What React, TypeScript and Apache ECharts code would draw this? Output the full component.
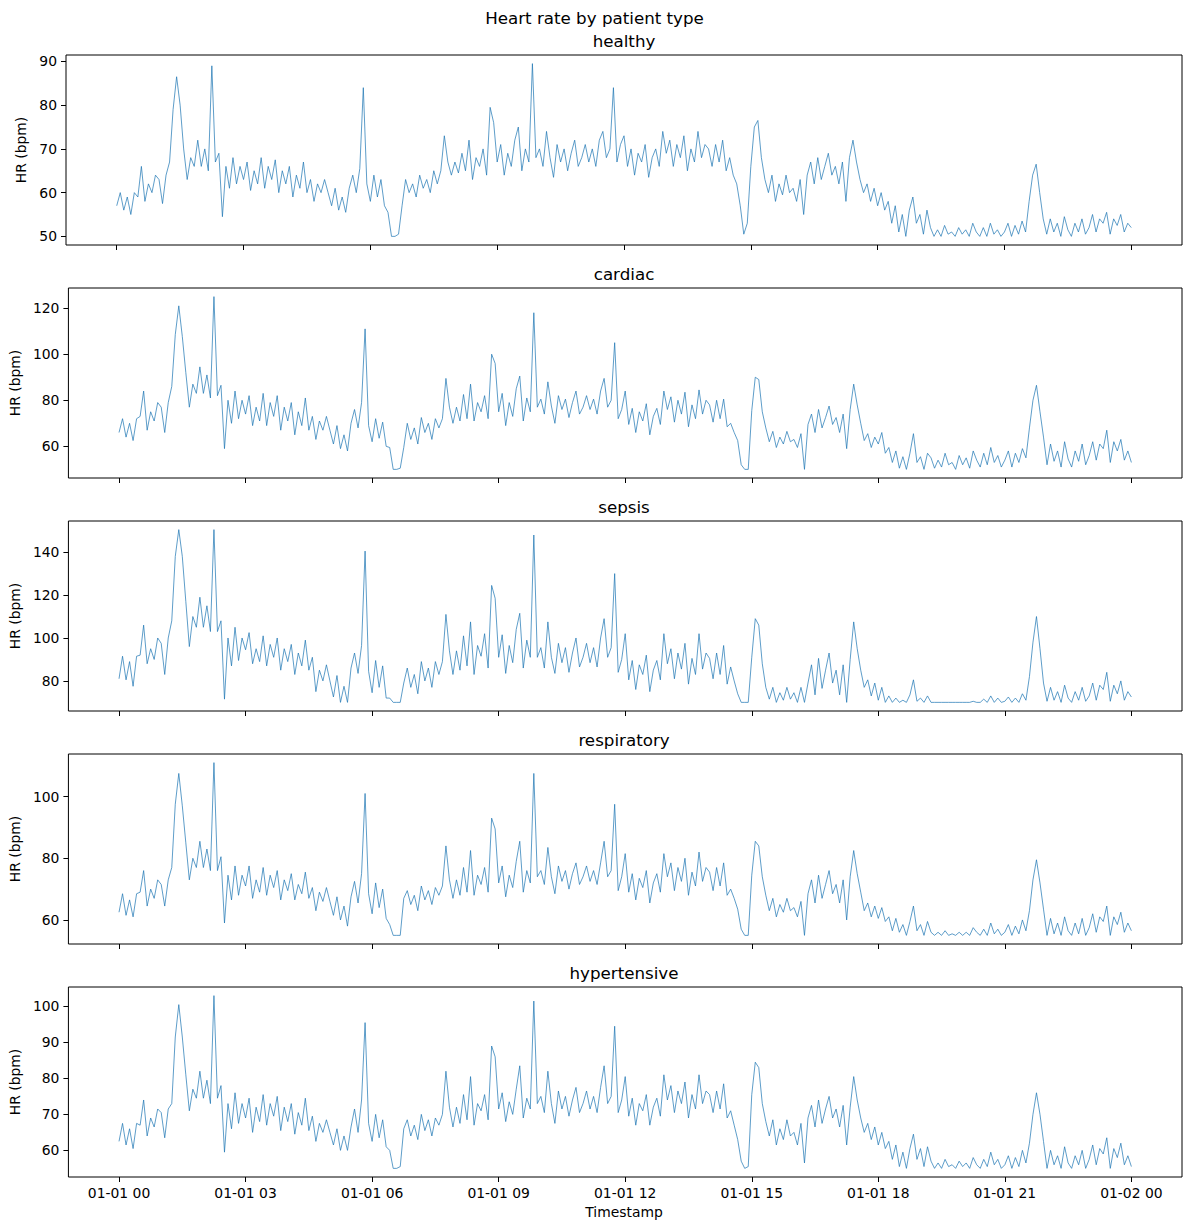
import * as echarts from 'echarts';
import React, { useEffect, useRef } from 'react';

// 5 minute samples, 01-01 00:00 .. 01-02 00:00 (one row per hour)
const panelNames = ['healthy', 'cardiac', 'sepsis', 'respiratory', 'hypertensive'];
const hourTicks = [0, 180, 360, 540, 720, 900, 1080, 1260, 1440];
const hourLabels = ['01-01 00', '01-01 03', '01-01 06', '01-01 09', '01-01 12', '01-01 15', '01-01 18', '01-01 21', '01-02 00'];
const yTicks = [
  [50, 60, 70, 80, 90],
  [60, 80, 100, 120],
  [80, 100, 120, 140],
  [60, 80, 100],
  [60, 70, 80, 90, 100],
];

const healthy = [
  57, 60, 56, 59, 55, 60, 59, 66, 58, 62, 60, 64,
  63, 57.5, 64, 67, 79, 86.5, 80, 70, 63, 68, 66, 72,
  66, 70, 65, 89, 67, 69, 54.5, 66, 61, 68, 62, 66,
  63, 67, 60.5, 65, 62, 68, 61, 66, 63, 67.5, 60, 65,
  62, 66, 59, 64, 61, 67, 60, 63, 58, 62, 60, 63,
  60, 57, 61, 56, 59, 55.5, 61, 64, 60, 65.5, 84, 62,
  58, 64, 59, 63, 57, 55.5, 50, 50, 50.5, 57, 63, 60,
  62, 59, 64, 61, 63, 60, 65, 62, 65, 73, 67, 64,
  67, 64.5, 69, 65, 72, 63, 68, 66, 70, 64, 79.5, 76,
  67, 71, 64, 69, 66, 72, 75, 65, 70, 67, 89.5, 68,
  70, 66, 74, 68, 63.5, 71, 67, 70, 65, 69, 72, 66,
  68, 71, 67, 70, 66, 72, 74, 68, 70, 84, 67, 71,
  73, 66, 70, 64, 69, 67, 71, 63.5, 68, 70, 66, 74,
  69, 72, 66, 71, 68, 73, 65, 70, 67, 74, 68, 71,
  70, 66, 71, 67, 72, 65, 68, 64, 62, 57, 50.5, 53,
  66, 75, 76.5, 68, 63, 60, 64, 58, 62, 59.5, 64, 60,
  61, 58, 63, 55, 64, 67, 62, 68, 63, 66, 69, 64,
  66, 62, 67, 58, 68, 72, 67, 63, 60, 62, 58, 61,
  57, 60, 56, 58, 53, 57, 51, 55, 50, 56, 59, 53,
  55, 50.5, 56, 52, 50, 51.5, 50, 52.5, 50.5, 51, 50, 52,
  50.5, 51.5, 50, 53, 51, 50, 52, 50, 53, 50.5, 51.5, 50,
  51, 53, 50, 52.5, 50.5, 53.5, 51, 58, 64, 66.5, 60, 54,
  50.5, 54, 51, 53, 50, 54.5, 51.5, 50, 53, 51, 54, 50.5,
  52, 55, 51, 54, 53, 55.5, 50.5, 54, 52.5, 55, 51, 53,
  52,
];

const cardiac = [
  66, 72, 64, 70, 62.5, 72, 73, 84, 67, 75, 71, 79,
  77, 66, 79, 86, 108.5, 121, 107.7, 92, 77, 87, 83, 94.5,
  83, 91, 81, 125, 82, 86.5, 59, 80, 70, 84, 72, 80,
  74, 82, 69, 77, 71, 83, 69, 79, 73, 82, 67, 77,
  71, 79, 65, 75, 69, 81, 67, 73, 63, 71, 67, 73,
  67, 61, 69, 59, 65, 58, 70, 76, 68, 79, 111, 69,
  62, 72, 63.5, 70.5, 60, 59.5, 50, 50, 50.5, 59.5, 70, 63,
  68, 61, 72.5, 66, 70, 63, 72, 68, 72, 89.5, 77, 70,
  77, 71, 82.5, 72, 87, 71, 79, 75, 82, 72, 100, 96,
  75, 83, 69, 79, 73, 85, 90.5, 71, 81, 75, 118, 77,
  80.5, 74, 88, 77.5, 70, 82, 76, 80.5, 72.5, 79, 84, 74,
  77, 82, 76, 80.5, 74, 84, 89.5, 77, 80, 105, 72, 76,
  84, 69.5, 76.5, 66, 75, 71, 78.5, 65, 73, 76.5, 69.5, 84,
  76, 81.5, 70.5, 80, 74, 83.5, 68.5, 78, 72, 84.5, 74, 80,
  78, 70.5, 80, 72, 80.5, 68.5, 70, 66, 62.5, 52, 50, 50,
  75.5, 90, 89, 75, 68, 62, 66.5, 59.5, 64, 61, 66.5, 62,
  63, 59.5, 65.5, 50, 69.5, 74, 66, 76, 68, 72.5, 77.5, 69.5,
  72.5, 66, 74, 59, 76, 87, 78, 70, 62.5, 65.5, 59.5, 64,
  61, 66, 57, 59.5, 53, 58, 50.5, 55.5, 50, 57, 65.5, 53,
  55.5, 50, 57, 55, 50.5, 54, 51, 57, 52, 53, 50, 56,
  52, 55, 50.5, 58, 54, 51, 57, 52, 59.5, 53, 56, 51,
  54, 58, 51, 57, 53, 59, 55, 68, 80, 86.5, 75, 64,
  52, 61, 53.5, 58, 51, 62, 54.5, 51, 58, 53.5, 61, 52,
  56, 62, 54, 61, 59, 67, 53, 62, 58, 63, 54, 58,
  53,
];

const sepsis = [
  81, 91.5, 80.5, 89, 77.5, 91.5, 92, 106, 88, 95, 90, 100,
  97.5, 83, 100, 108, 138, 150.5, 138, 117, 96, 110, 105, 119,
  105, 115, 103, 150.5, 103, 108, 71.5, 100, 87, 105, 89.5, 100,
  94.5, 102.5, 88, 95, 89, 101, 87, 97, 91, 100, 85, 95,
  89, 97, 83, 93, 87, 99, 85, 91, 75, 85, 80, 87.5,
  80, 72.5, 82.5, 70, 77.5, 70, 86, 93, 83.5, 96.5, 140.5, 84.5,
  74.5, 89.5, 77, 87, 72, 72, 70, 70, 70, 79, 86, 77,
  83, 74, 89, 80, 86, 77, 89, 83, 89, 111, 94, 83,
  94, 85, 101, 87, 107.5, 83, 96.5, 91.5, 102, 86, 124.5, 118.5,
  91, 101.5, 83.5, 96.5, 88.5, 104, 111.5, 86, 99, 91, 148, 91,
  95.5, 86, 107.5, 91, 83.5, 97.5, 88.5, 95.5, 84, 93, 100, 86.5,
  91, 97.5, 88.5, 95.5, 86.5, 100, 109, 91, 95.5, 130, 84, 90,
  102, 80.5, 89.5, 76, 87.5, 83, 92, 75, 85, 89.5, 80.5, 102,
  88, 95, 81, 93, 85.5, 97.5, 78.5, 90.5, 83, 102, 85.5, 93,
  90.5, 81, 93, 83, 96.5, 78.5, 86.5, 80, 74, 70, 70, 70,
  91, 109, 106, 88, 77, 71.5, 77, 70, 74.5, 71, 77, 71.5,
  74.5, 70, 77, 70, 79, 87.5, 73.5, 90.5, 76.5, 85, 93, 79,
  85, 73.5, 87.5, 70, 90, 107.5, 95, 85, 77, 80.5, 73, 79,
  71, 77, 70, 73, 70, 72, 70, 71, 70, 73.5, 80.5, 70.5,
  72, 70, 73, 70, 70, 70, 70, 70, 70, 70, 70, 70,
  70, 70, 70, 70.5, 70, 70, 71.5, 70, 73, 70, 72, 70,
  70.5, 72.5, 70, 72, 70, 74, 71, 82, 98, 110, 95, 79,
  70.5, 77, 71, 75, 70, 78, 72, 70, 75, 71, 77, 70.5,
  73, 79, 71, 78, 76, 84, 70.5, 78, 74, 80, 71, 75,
  72.5,
];

const respiratory = [
  62.5, 68.5, 61.5, 66.5, 61, 68.5, 69, 76, 64.5, 70, 67, 73,
  71.5, 64.5, 73, 77, 97.5, 107.5, 97, 85, 73, 80, 77, 85.5,
  77, 83, 76, 111, 76, 80.5, 59, 74.5, 66.5, 77.5, 68, 74.5,
  71, 77.5, 67, 73, 69, 77, 68, 74.5, 70.5, 76, 66.5, 73,
  69.5, 75, 66.5, 71.5, 68.5, 75.5, 67, 70.5, 63, 69, 66, 70.5,
  66, 61.5, 67.5, 60, 64.5, 58, 67.5, 72.5, 65.5, 75, 101, 68.5,
  62, 72, 64, 70, 60.5, 58.5, 55, 55, 55, 67, 69.5, 65,
  68, 63, 71, 66.5, 69.5, 65, 70.5, 68, 71, 84, 73, 67,
  73, 68, 77, 69, 82.5, 68, 74.5, 71.5, 77, 69, 93, 89.5,
  72, 77.5, 67.5, 74.5, 70.5, 79, 85.5, 69, 76, 72, 107.5, 74,
  76, 71.5, 83.5, 74, 68.5, 77.5, 72.5, 76, 70, 75, 78.5, 71.5,
  74, 77.5, 72.5, 76, 71.5, 78.5, 85.5, 74, 76, 97.5, 69.5, 74,
  81.5, 69, 75, 66.5, 73.5, 70.5, 76, 65.5, 72, 75, 69, 81.5,
  74, 78.5, 69.5, 77, 72.5, 80, 68, 75.5, 71, 82, 72.5, 77,
  75.5, 69.5, 77, 71, 78.5, 68, 70, 67, 63.5, 57, 55, 55,
  74.5, 85.5, 84, 74, 68, 63, 67, 61, 65, 62.5, 67, 63,
  64, 61, 66, 55, 68.5, 73, 65.5, 74.5, 67, 71.5, 76, 68.5,
  71.5, 65.5, 73, 60, 74, 82.5, 75, 69, 63, 65.5, 61, 64.5,
  60.5, 64, 59.5, 61, 56.5, 60.5, 56, 58.5, 55, 59.5, 64.5, 56.5,
  58.5, 55, 59.5, 56, 55, 56, 55, 56.5, 55, 55.5, 55, 56,
  55, 56, 55, 57.5, 56, 55, 57, 55, 59, 55.5, 57, 55,
  56, 58.5, 55, 58, 55.5, 60, 56.5, 63, 73, 79.5, 72, 63.5,
  55, 60.5, 55.5, 59, 55, 61, 56.5, 55, 59, 55.5, 60.5, 55,
  57.5, 62, 56, 61, 59.5, 64.5, 55, 61, 58.5, 62.5, 56, 59,
  56.5,
];

const hypertensive = [
  62.5, 67.5, 61.5, 66, 60.5, 67.5, 67, 74, 64, 69, 66.5, 71.5,
  70.5, 63.5, 71.5, 73, 91.5, 100.5, 91.5, 81, 71, 77, 74.5, 82,
  74.5, 79.5, 73, 103, 74.5, 78, 59.5, 73, 66, 76, 67.5, 73,
  69, 74.5, 65, 72, 68, 75.5, 67, 73, 69.5, 75, 65.5, 72,
  68, 73, 64.5, 70.5, 67, 74.5, 65.5, 69.5, 62.5, 67.5, 65, 68.5,
  65, 61.5, 66, 60, 64, 60, 66.5, 71.5, 65, 74, 95.5, 67.5,
  62.5, 70, 63.5, 68.5, 61, 60, 55, 55, 55.5, 66, 68.5, 64,
  67, 63, 70, 65.5, 68.5, 64, 69, 67, 70, 82, 72, 66.5,
  72, 67.5, 75.5, 68.5, 80.5, 67, 73, 71, 75.5, 68.5, 89, 86,
  71.5, 76, 68, 73.5, 70, 77, 83.5, 69, 74.5, 71.5, 101.5, 73,
  75, 70.5, 82, 73, 67.5, 76.5, 71.5, 75, 69.5, 74, 77.5, 70.5,
  73, 76.5, 71.5, 75, 70.5, 77.5, 83.5, 73, 75, 94.5, 70.5, 74,
  80.5, 69.5, 74.5, 67, 73, 71, 75.5, 67, 72, 74.5, 69.5, 81,
  74, 78, 70.5, 76.5, 73, 79, 69, 75.5, 71.5, 81, 73, 76.5,
  75.5, 70.5, 76.5, 71.5, 78.5, 69, 71, 67, 63, 57, 55, 55.5,
  75.5, 84.5, 83, 73, 68, 64, 68.5, 61.5, 66, 63, 68.5, 64,
  65, 61.5, 67.5, 56.5, 69, 72.5, 66.5, 74, 67.5, 71.5, 75, 69,
  71.5, 66.5, 72.5, 61.5, 72, 80.5, 74, 69, 65, 67.5, 63, 66.5,
  61.5, 65, 60.5, 62.5, 57.5, 61.5, 55.5, 59.5, 55, 60.5, 64.5, 57.5,
  60.5, 55.5, 61, 57, 55, 56.5, 55, 57.5, 55.5, 56, 55, 57,
  55.5, 56.5, 55, 58, 56, 55, 57.5, 55.5, 59.5, 56, 57.5, 55,
  56, 58.5, 55, 58, 55.5, 60, 56.5, 62, 70, 76, 70, 62.5,
  55, 60, 56, 58.5, 55, 61, 56.5, 55, 58.5, 56, 60, 55,
  57.5, 61.5, 56, 60.5, 59, 63.5, 55, 60.5, 58, 62, 56, 58.5,
  55.5,
];

const allSeries = [healthy, cardiac, sepsis, respiratory, hypertensive];

const FONT = 'DejaVu Sans';
const LEFT = 66;
const WIDTH = 1116;
const PANEL_TOPS = [55, 288, 521, 754, 987];
const PANEL_H = 190;
const LINE_BLUE = '#1f77b4';

const App = () => {
  const chartRef = useRef<HTMLDivElement>(null);

  useEffect(() => {
    document.body.style.margin = '0';
    if (!chartRef.current) return;
    const chart = echarts.init(chartRef.current, null, { renderer: 'svg' });

    const grids = PANEL_TOPS.map((top) => ({
      left: LEFT,
      top,
      width: WIDTH,
      height: PANEL_H,
      show: true,
      borderColor: '#000',
      borderWidth: 1,
      backgroundColor: 'transparent',
    }));

    const xAxes = PANEL_TOPS.map((_, i) => ({
      type: 'value',
      gridIndex: i,
      min: -72,
      max: 1512,
      axisLine: { show: false, onZero: false },
      splitLine: { show: false },
      axisTick: {
        show: true,
        inside: false,
        length: 5,
        customValues: hourTicks,
        lineStyle: { color: '#000', width: 1 },
      },
      axisLabel: {
        show: i === PANEL_TOPS.length - 1,
        customValues: hourTicks,
        margin: 9,
        color: '#000',
        fontFamily: FONT,
        fontSize: 13.9,
        formatter: (v: number) => hourLabels[hourTicks.indexOf(v)] ?? '',
      },
    }));

    const yAxes = allSeries.map((values, i) => {
      const lo = Math.min(...values);
      const hi = Math.max(...values);
      const pad = (hi - lo) * 0.05;
      return {
        type: 'value',
        gridIndex: i,
        min: lo - pad,
        max: hi + pad,
        axisLine: { show: false, onZero: false },
        splitLine: { show: false },
        axisTick: {
          show: true,
          inside: false,
          length: 5,
          customValues: yTicks[i],
          lineStyle: { color: '#000', width: 1 },
        },
        axisLabel: {
          customValues: yTicks[i],
          margin: 9,
          color: '#000',
          fontFamily: FONT,
          fontSize: 13.9,
        },
        name: 'HR (bpm)',
        nameLocation: 'middle',
        nameRotate: 90,
        nameGap: i === 0 ? 32 : 39,
        nameTextStyle: { color: '#000', fontFamily: FONT, fontSize: 13.9 },
      };
    });

    const series = allSeries.map((values, i) => ({
      type: 'line',
      xAxisIndex: i,
      yAxisIndex: i,
      showSymbol: false,
      symbol: 'none',
      silent: true,
      lineStyle: { color: LINE_BLUE, width: 0.9, opacity: 0.8 },
      data: values.map((v, k) => [k * 5, v]),
    }));

    const titleFont = `16.7px "${FONT}"`;
    const graphic = [
      {
        type: 'text',
        x: 594.5,
        y: 18,
        style: { text: 'Heart rate by patient type', font: titleFont, fill: '#000', textAlign: 'center', textVerticalAlign: 'middle' },
      },
      ...panelNames.map((name, i) => ({
        type: 'text',
        x: LEFT + WIDTH / 2,
        y: PANEL_TOPS[i] - 14,
        style: { text: name, font: titleFont, fill: '#000', textAlign: 'center', textVerticalAlign: 'middle' },
      })),
      {
        type: 'text',
        x: LEFT + WIDTH / 2,
        y: 1212,
        style: { text: 'Timestamp', font: `13.9px "${FONT}"`, fill: '#000', textAlign: 'center', textVerticalAlign: 'middle' },
      },
    ];

    chart.setOption({
      animation: false,
      backgroundColor: '#fff',
      grid: grids,
      xAxis: xAxes,
      yAxis: yAxes,
      series,
      graphic,
    });

    return () => {
      chart.dispose();
    };
  }, []);

  return <div ref={chartRef} style={{ width: 1189, height: 1230 }} />;
};

export default App;
